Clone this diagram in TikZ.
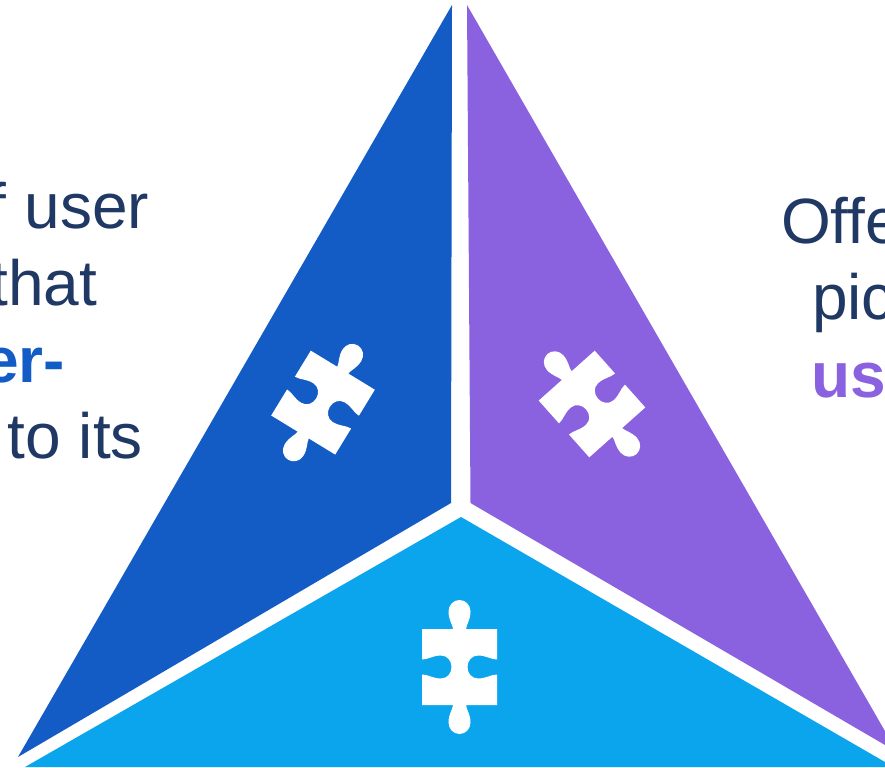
\documentclass[tikz,border=0pt]{standalone}
\usepackage{fontspec}
\setmainfont{Liberation Sans}
\definecolor{panelblue}{HTML}{135CC6}
\definecolor{panelpurple}{HTML}{8A62E0}
\definecolor{panelcyan}{HTML}{0BA5EE}
\definecolor{inktext}{HTML}{1F3864}
\tikzset{
  x=1bp,y=-1bp,
  txt/.style={inner sep=0pt,outer sep=0pt,text=inktext,font=\fontsize{64bp}{78bp}\selectfont},
  puzzlepiece/.pic={
    \fill[white,x=1bp,y=-1bp]
      (-37.5,-38) -- (-6.5,-38)
      .. controls (-7,-43) and (-11,-47) .. (-11,-55.5)
      .. controls (-11,-62) and (-6,-67) .. (0,-67)
      .. controls (6,-67) and (11,-62) .. (11,-55.5)
      .. controls (11,-47) and (7,-43) .. (6.5,-38)
      -- (37.5,-38) -- (37.5,-7.5)
      .. controls (31,-7.5) and (27,-11.5) .. (18.5,-11.5)
      .. controls (12,-11.5) and (8,-6) .. (8,0)
      .. controls (8,6) and (12,11.5) .. (18.5,11.5)
      .. controls (27,11.5) and (31,7.5) .. (37.5,7.5)
      -- (37.5,38) -- (6.5,38)
      .. controls (7,43) and (11,47) .. (11,55.5)
      .. controls (11,62) and (6,67) .. (0,67)
      .. controls (-6,67) and (-11,62) .. (-11,55.5)
      .. controls (-11,47) and (-7,43) .. (-6.5,38)
      -- (-37.5,38) -- (-37.5,7.5)
      .. controls (-31,7.5) and (-27,11.5) .. (-18.5,11.5)
      .. controls (-12,11.5) and (-8,6) .. (-8,0)
      .. controls (-8,-6) and (-12,-11.5) .. (-18.5,-11.5)
      .. controls (-27,-11.5) and (-31,-7.5) .. (-37.5,-7.5)
      -- cycle;
  }
}
\begin{document}
\begin{tikzpicture}
\useasboundingbox (0,0) rectangle (885,768);
\clip (0,0) rectangle (885,768);
\fill[white] (0,0) rectangle (885,768);
% panels
\fill[panelblue] (452,5) -- (18,757) -- (451,503) -- cycle;
\fill[panelpurple] (467,5) -- (470.5,503) -- (897,752) -- cycle;
\fill[panelcyan] (461,517) -- (25,767) -- (885,767) -- (885,762) -- cycle;
% puzzle pieces
\pic at (323,402.6) [rotate=-31.4] {puzzlepiece};
\pic at (592,404) [rotate=41.7] {puzzlepiece};
\pic at (459.5,667) {puzzlepiece};
% left text
\node[txt,anchor=base east] (l1) at (149,228) {f user};
\node[txt,anchor=base east] (l2) at (97,305) {that};
\node[txt,anchor=base east,text=panelblue,font=\fontsize{64bp}{78bp}\selectfont\bfseries] (l3) at (65,382) {er-};
\node[txt,anchor=base east] (l4) at (143,458) {to its};
% right text
\node[txt,anchor=base west] (r1) at (781,243) {Offe};
\node[txt,anchor=base west] (r2) at (812,319) {pic};
\node[txt,anchor=base west,text=panelpurple,font=\fontsize{64bp}{78bp}\selectfont\bfseries] (r3) at (811,397) {us};
\end{tikzpicture}
\end{document}
